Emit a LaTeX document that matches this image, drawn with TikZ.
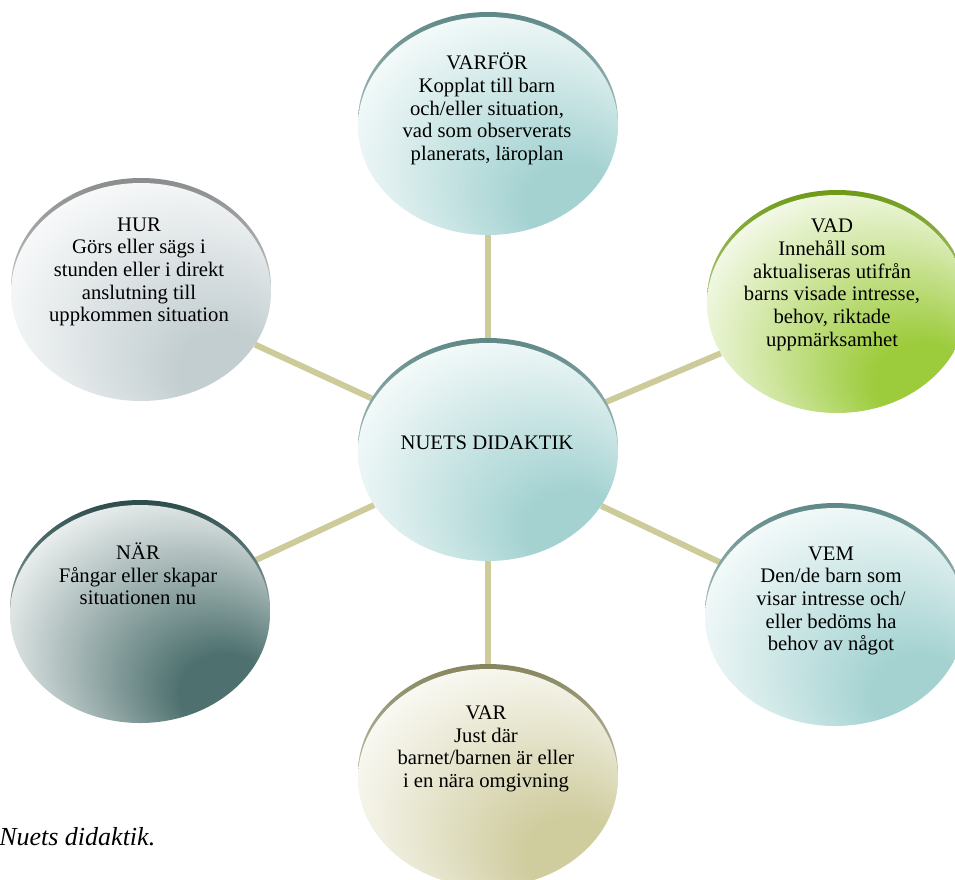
\documentclass[tikz,border=0pt]{standalone}
\usepackage{fontspec}
\setmainfont{Liberation Serif}
\usetikzlibrary{shapes.geometric, backgrounds}

\definecolor{tealfill}{HTML}{A3D2D1}
\definecolor{tealarc}{HTML}{5E8886}
\definecolor{greenfill}{HTML}{9CCB3B}
\definecolor{greenarc}{HTML}{6E9A16}
\definecolor{olivefill}{HTML}{CFCC9E}
\definecolor{olivearc}{HTML}{86855E}
\definecolor{slatefill}{HTML}{4E716F}
\definecolor{slatearc}{HTML}{2C4D4C}
\definecolor{grayfill}{HTML}{C3CED1}
\definecolor{grayarc}{HTML}{8A8C8D}
\definecolor{spokecol}{HTML}{CDCB99}

\pgfdeclareradialshading{tealglow}{\pgfpoint{20bp}{-22bp}}{color(0bp)=(tealfill); color(9bp)=(tealfill); color(38bp)=(white); color(50bp)=(white)}
\pgfdeclareradialshading{greenglow}{\pgfpoint{20bp}{-22bp}}{color(0bp)=(greenfill); color(9bp)=(greenfill); color(38bp)=(white); color(50bp)=(white)}
\pgfdeclareradialshading{oliveglow}{\pgfpoint{20bp}{-22bp}}{color(0bp)=(olivefill); color(9bp)=(olivefill); color(38bp)=(white); color(50bp)=(white)}
\pgfdeclareradialshading{slateglow}{\pgfpoint{20bp}{-22bp}}{color(0bp)=(slatefill); color(9bp)=(slatefill); color(38bp)=(white); color(50bp)=(white)}
\pgfdeclareradialshading{grayglow}{\pgfpoint{20bp}{-22bp}}{color(0bp)=(grayfill); color(9bp)=(grayfill); color(38bp)=(white); color(50bp)=(white)}

\tikzset{
  bubble/.style 2 args={ellipse, minimum width=195pt, minimum height=163.5pt, inner sep=0pt,
    shade, shading=#1,
    preaction={top color=#2, bottom color=#2!10, transform canvas={yshift=3.75pt}}},
  bubbletext/.style={align=center, inner sep=0pt, font=\fontsize{15.5pt}{17pt}\selectfont},
  spoke/.style={draw=spokecol, line width=4.5pt}
}

\begin{document}
\begin{tikzpicture}[x=0.75pt, y=-0.75pt]
\useasboundingbox (0,0) rectangle (955,879);

% the six questions round the middle
\node[bubble={tealglow}{tealarc}] (mid) at (488,452) {};
\node[bubble={tealglow}{tealarc}] (varfor) at (488,126) {};
\node[bubble={greenglow}{greenarc}] (vad) at (837,304) {};
\node[bubble={tealglow}{tealarc}] (vem) at (835,617) {};
\node[bubble={oliveglow}{olivearc}] (var) at (488,778) {};
\node[bubble={slateglow}{slatearc}] (nar) at (140,614) {};
\node[bubble={grayglow}{grayarc}] (hur) at (141,292) {};

\begin{scope}[on background layer]
  \draw[spoke] (mid) -- (varfor);
  \draw[spoke] (mid) -- (vad);
  \draw[spoke] (mid) -- (vem);
  \draw[spoke] (mid) -- (var);
  \draw[spoke] (mid) -- (nar);
  \draw[spoke] (mid) -- (hur);
\end{scope}

\node[bubbletext] (mid-t) at (487,443) {NUETS DIDAKTIK};
\node[bubbletext] (varfor-t) at (487,109) {VARFÖR\\Kopplat till barn\\och/eller situation,\\vad som observerats\\planerats, läroplan};
\node[bubbletext] (vad-t) at (832,285) {VAD\\Innehåll som\\aktualiseras utifrån\\barns visade intresse,\\behov, riktade\\uppmärksamhet};
\node[bubbletext] (vem-t) at (831,601) {VEM\\Den/de barn som\\visar intresse och/\\eller bedöms ha\\behov av något};
\node[bubbletext] (var-t) at (486,749) {VAR\\Just där\\barnet/barnen är eller\\i en nära omgivning};
\node[bubbletext] (nar-t) at (138,574) {NÄR\\Fångar eller skapar\\situationen nu};
\node[bubbletext] (hur-t) at (139,272) {HUR\\Görs eller sägs i\\stunden eller i direkt\\anslutning till\\uppkommen situation};

\node[anchor=base west, inner sep=0pt, font=\fontsize{19.5pt}{22pt}\selectfont\itshape] (caption) at (-1,845) {Nuets didaktik.};
\end{tikzpicture}
\end{document}
